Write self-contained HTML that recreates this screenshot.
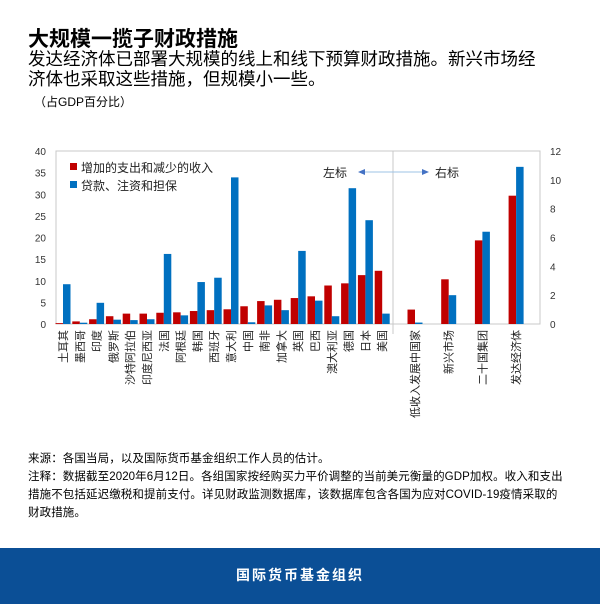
<!DOCTYPE html>
<html><head><meta charset="utf-8"><style>
body{margin:0;width:600px;height:604px;background:#fff;font-family:"Liberation Sans","Noto Sans CJK SC",sans-serif;position:relative;overflow:hidden}
.t{position:absolute;left:28px;color:#000}
</style></head><body>
<div class="t" style="top:23px;font-size:21px;font-weight:bold">大规模一揽子财政措施</div>
<div class="t" style="top:49px;font-size:17.5px;line-height:20px;white-space:nowrap">发达经济体已部署大规模的线上和线下预算财政措施。新兴市场经<br>济体也采取这些措施，但规模小一些。</div>
<div class="t" style="top:93px;left:34px;font-size:12px">（占GDP百分比）</div>
<svg id="chart" width="600" height="440" style="position:absolute;left:0;top:0" font-family="Liberation Sans, Noto Sans CJK SC, sans-serif"></svg>
<div class="t" style="top:450px;font-size:11.5px;line-height:18px;white-space:nowrap;letter-spacing:0.1px">来源：各国当局，以及国际货币基金组织工作人员的估计。<br>注释：数据截至2020年6月12日。各组国家按经购买力平价调整的当前美元衡量的GDP加权。收入和支出<br>措施不包括延迟缴税和提前支付。详见财政监测数据库，该数据库包含各国为应对COVID-19疫情采取的<br>财政措施。</div>
<div style="position:absolute;left:0;top:548px;width:600px;height:56px;background:#0b4f96;color:#fff;font-weight:bold;font-size:14px;text-align:center;line-height:54px;letter-spacing:2px"><span>国际货币基金组织</span></div>
<script>
const leftCats=["土耳其","墨西哥","印度","俄罗斯","沙特阿拉伯","印度尼西亚","法国","阿根廷","韩国","西班牙","意大利","中国","南非","加拿大","英国","巴西","澳大利亚","德国","日本","美国"];
const leftRed=[0.2,0.6,1.1,1.8,2.4,2.4,2.6,2.7,3.0,3.2,3.4,4.1,5.3,5.6,6.0,6.4,8.9,9.4,11.3,12.3];
const leftBlue=[9.2,0.3,4.9,1.0,0.9,1.1,16.2,2.0,9.7,10.7,33.9,0.4,4.3,3.2,16.9,5.4,1.8,31.4,24.0,2.4];
const rightCats=["低收入发展中国家","新兴市场","二十国集团","发达经济体"];
const rightRed=[1.0,3.1,5.8,8.9];
const rightBlue=[0.1,2.0,6.4,10.9];
const leftTicks=[0,5,10,15,20,25,30,35,40];
const rightTicks=[0,2,4,6,8,10,12];
const svg=document.getElementById('chart');const NS='http://www.w3.org/2000/svg';
function mk(t,a,p){const e=document.createElementNS(NS,t);for(const k in a)e.setAttribute(k,a[k]);(p||svg).appendChild(e);return e;}
const X0=56,X1=540,Y0=324,Y1=151;
const yL=v=>Y0-(v/40)*(Y0-Y1), yR=v=>Y0-(v/12)*(Y0-Y1);
const xL=i=>63+i*16.8, xR=i=>415+i*33.7, bw=7.5;
let e=mk('rect',{x:X0,y:Y1,width:X1-X0,height:Y0-Y1,fill:'none',stroke:'#c8c8c8'});

e=mk('line',{x1:393,x2:393,y1:Y1,y2:Y0+10,stroke:'#c8c8c8'});

leftTicks.forEach(v=>{const t=mk('text',{x:46,y:yL(v)+4,'font-size':10,'text-anchor':'end',fill:'#333'});t.textContent=v;
});
rightTicks.forEach(v=>{const t=mk('text',{x:550,y:yR(v)+4,'font-size':10,fill:'#333'});t.textContent=v;
});
function bars(cats,red,blue,xf,yf){cats.forEach((c,i)=>{const cx=xf(i);
let r=mk('rect',{x:cx-bw,y:yf(red[i]),width:bw,height:Y0-yf(red[i]),fill:'#c00000'});

let b=mk('rect',{x:cx,y:yf(blue[i]),width:bw,height:Y0-yf(blue[i]),fill:'#0070c0'});

let t=mk('text',{transform:`translate(${cx+4},${Y0+6}) rotate(-90)`,'font-size':11,'text-anchor':'end',fill:'#222'});t.textContent=c;
});}
bars(leftCats,leftRed,leftBlue,xL,yL);
bars(rightCats,rightRed,rightBlue,xR,yR);
e=mk('rect',{x:70,y:163,width:7,height:7,fill:'#c00000'});
e=mk('text',{x:81,y:172,'font-size':12,fill:'#222'});e.textContent='增加的支出和减少的收入';
e=mk('rect',{x:70,y:181,width:7,height:7,fill:'#0070c0'});
e=mk('text',{x:81,y:190,'font-size':12,fill:'#222'});e.textContent='贷款、注资和担保';
e=mk('text',{x:323,y:177,'font-size':12,fill:'#222'});e.textContent='左标';
e=mk('text',{x:435,y:177,'font-size':12,fill:'#222'});e.textContent='右标';
e=mk('line',{x1:362,x2:425,y1:172,y2:172,stroke:'#9dc3e6'});
e=mk('path',{d:'M358 172 L365 169 L365 175 Z M429 172 L422 169 L422 175 Z',fill:'#4472c4'});
</script>
</body></html>
